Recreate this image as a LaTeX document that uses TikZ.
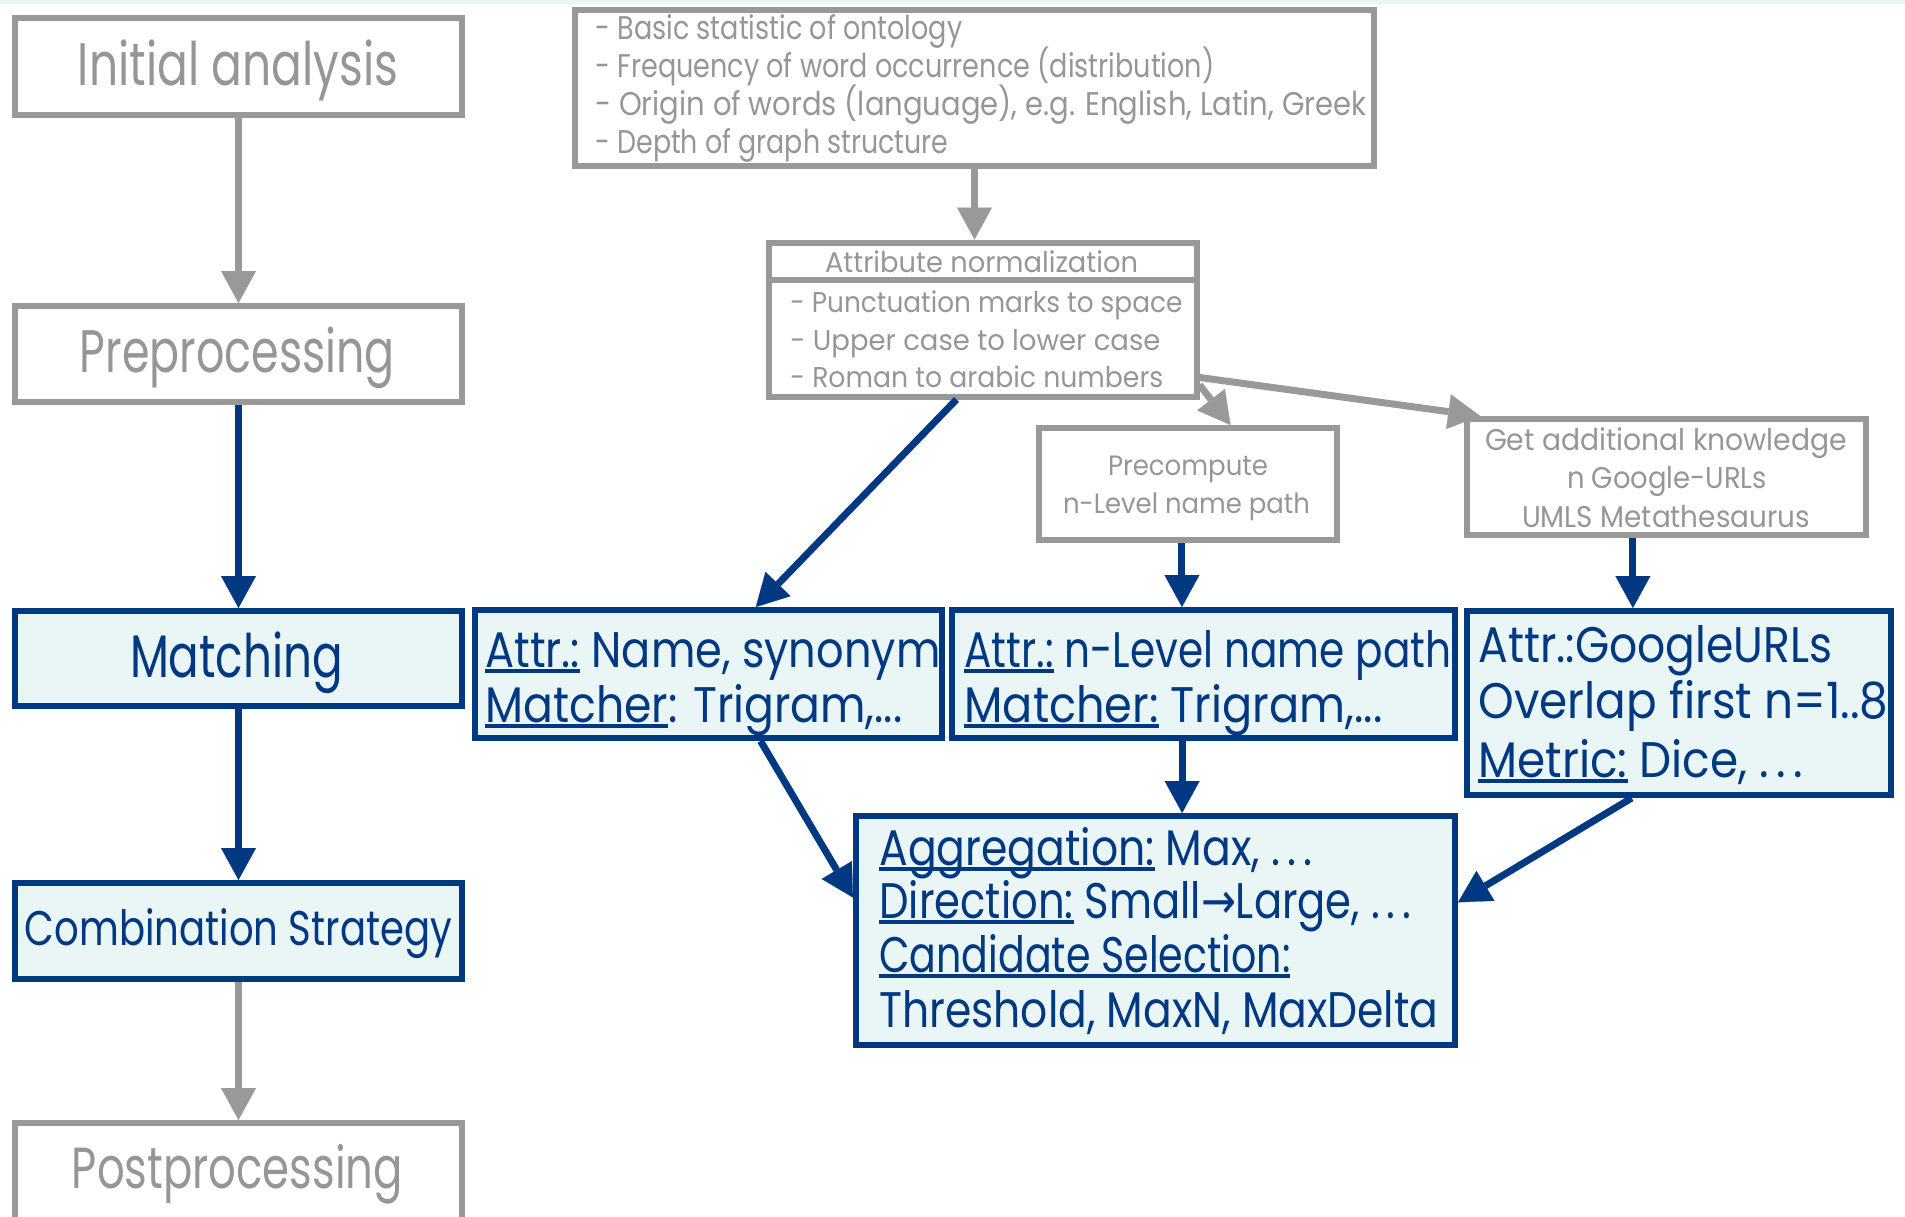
\documentclass[tikz,border=0pt]{standalone}
\usepackage{fontspec}
\usepackage{graphicx}
\setmainfont{Poppins}
\newfontfamily\arrowfont{DejaVu Sans}
\usetikzlibrary{arrows.meta,calc}

\definecolor{lineGray}{RGB}{153,153,153}
\definecolor{textGray}{RGB}{150,150,150}
\definecolor{deepBlue}{RGB}{0,57,130}
\definecolor{iceFill}{RGB}{234,245,245}
\definecolor{bandCyan}{RGB}{232,245,245}

% one drawing unit = 0.5pt
\newlength\px
\setlength\px{0.5pt}
\newcommand\fs[1]{\fontsize{#1}{#1}\selectfont}
% set a line to a given width (in drawing units), keeping its height
\newcommand\fw[2]{\resizebox{#1\px}{\height}{#2}}
% underline that runs just under the baseline
\newcommand\ulx[1]{\setbox0\hbox{#1}\rlap{\rule[-0.115em]{\wd0}{0.075em}}\box0\relax}
\newcommand\rarr{{\arrowfont →}}

\begin{document}
\begin{tikzpicture}[x=0.5pt,y=-0.5pt,
  gbox/.style={draw=lineGray,line width=3pt,inner sep=0pt,rectangle},
  bbox/.style={draw=deepBlue,fill=iceFill,line width=3pt,inner sep=0pt,rectangle},
  garr/.style={draw=lineGray,line width=3.5pt,-{Triangle[length=16pt,width=17.5pt,line width=0.1pt]}},
  barr/.style={draw=deepBlue,line width=3.5pt,-{Triangle[length=16pt,width=17.5pt,line width=0.1pt]}},
  lbl/.style={inner sep=0pt,anchor=base west},
  clbl/.style={inner sep=0pt,anchor=base},
  gtxt/.style={text=textGray},
  btxt/.style={text=deepBlue}]
\useasboundingbox (0,0) rectangle (1905,1216);
\fill[bandCyan] (0,0) rectangle (1905,3.5);

% ---- left column: process steps
\node[gbox,minimum width=223.5pt,minimum height=48.5pt] (init) at (238.5,66.5) {};
\node[gbox,minimum width=223.5pt,minimum height=48pt] (prep) at (238.5,354) {};
\node[bbox,minimum width=223.5pt,minimum height=47.5pt] (match) at (238.5,658.5) {};
\node[bbox,minimum width=223.5pt,minimum height=48pt] (comb) at (238.5,931) {};
\node[gbox,minimum width=223.5pt,minimum height=50pt] (post) at (238.5,1173) {};

% ---- analysis and normalisation
\node[gbox,minimum width=399.5pt,minimum height=78pt] (stats) at (974.5,87.5) {};
\node[gbox,minimum width=214pt,minimum height=18.75pt] (normhead) at (982.5,261.25) {};
\node[gbox,minimum width=214pt,minimum height=58.25pt] (normbody) at (982.5,338.25) {};
\node[gbox,minimum width=149pt,minimum height=56pt] (pre) at (1188,484) {};
\node[gbox,minimum width=199.5pt,minimum height=58pt] (getknow) at (1666.5,477) {};

% ---- matchers and combination
\node[bbox,minimum width=233.5pt,minimum height=64pt] (attrname) at (708.5,674) {};
\node[bbox,minimum width=251.5pt,minimum height=64pt] (nlevel) at (1203.5,674) {};
\node[bbox,minimum width=212pt,minimum height=92pt] (google) at (1679,703) {};
\node[bbox,minimum width=299.5pt,minimum height=114.5pt] (aggr) at (1155.5,930.5) {};

% ---- connectors
\draw[garr] (init.south) -- (prep.north);
\draw[barr] (prep.south) -- (match.north);
\draw[barr] (match.south) -- (comb.north);
\draw[garr] (comb.south) -- (post.north);
\draw[garr] (stats.south) -- (stats.south |- normhead.north);
\coordinate (nA) at ($(normbody.north east)!0.82!(normbody.south east)$);
\coordinate (nB) at ($(normbody.north east)!0.88!(normbody.south east)$);
\draw[garr] (nB) -- ($(pre.north west)!0.64!(pre.north east)$);
\draw[garr] (nA) -- ($(getknow.north west)!0.04!(getknow.north east)$);
\draw[barr] ($(normbody.south west)!0.44!(normbody.south east)$) -- ($(attrname.north west)!0.60!(attrname.north east)$);
\coordinate (pOut) at ($(pre.south west)!0.48!(pre.south east)$);
\draw[barr] (pOut) -- (pOut |- nlevel.north);
\coordinate (gOut) at ($(getknow.south west)!0.417!(getknow.south east)$);
\draw[barr] (gOut) -- (gOut |- google.north);
\draw[barr] ($(attrname.south west)!0.61!(attrname.south east)$) -- ($(aggr.north west)!0.36!(aggr.south west)$);
\coordinate (lOut) at ($(nlevel.south west)!0.458!(nlevel.south east)$);
\draw[barr] (lOut) -- (lOut |- aggr.north);
\draw[barr] ($(google.south west)!0.39!(google.south east)$) -- ($(aggr.north east)!0.38!(aggr.south east)$);

% ---- texts
\node[clbl,gtxt,font=\fs{30}] (initT) at (238,85) {\fw{320}{Initial analysis}};
\node[clbl,gtxt,font=\fs{30}] (prepT) at (237.5,372) {\fw{315}{Preprocessing}};
\node[clbl,btxt,font=\fs{30}] (matchT) at (236.5,677) {\fw{213}{Matching}};
\node[clbl,btxt,font=\fs{24.3}] (combT) at (238.5,945) {\fw{427}{Combination Strategy}};
\node[clbl,gtxt,font=\fs{29}] (postT) at (237.5,1188.5) {\fw{331}{Postprocessing}};

\node[lbl,gtxt,font=\fs{16.4}] (st1) at (595,39.3) {\fw{367}{- Basic statistic of ontology}};
\node[lbl,gtxt,font=\fs{16.4}] (st2) at (595,77) {\fw{619}{- Frequency of word occurrence (distribution)}};
\node[lbl,gtxt,font=\fs{16.4}] (st3) at (595,115) {\fw{771}{- Origin of words (language), e.g. English, Latin, Greek}};
\node[lbl,gtxt,font=\fs{16.4}] (st4) at (595,153.3) {\fw{353}{- Depth of graph structure}};

\node[clbl,gtxt,font=\fs{14.3}] (nh) at (981.5,272) {\fw{313}{Attribute normalization}};
\node[lbl,gtxt,font=\fs{14.3}] (nb1) at (790,312) {\fw{392}{- Punctuation marks to space}};
\node[lbl,gtxt,font=\fs{14.3}] (nb2) at (790,350) {\fw{370}{- Upper case to lower case}};
\node[lbl,gtxt,font=\fs{14.3}] (nb3) at (790,387) {\fw{373}{- Roman to arabic numbers}};

\node[clbl,gtxt,font=\fs{14}] (pr1) at (1188,475) {\fw{160}{Precompute}};
\node[clbl,gtxt,font=\fs{14}] (pr2) at (1186.5,513) {\fw{247}{n-Level name path}};

\node[clbl,gtxt,font=\fs{15}] (gk1) at (1666,450) {\fw{362}{Get additional knowledge}};
\node[clbl,gtxt,font=\fs{15}] (gk2) at (1667,488) {\fw{200}{n Google-URLs}};
\node[clbl,gtxt,font=\fs{15}] (gk3) at (1666,527) {\fw{288}{UMLS Metathesaurus}};

\node[lbl,btxt,font=\fs{25}] (an1) at (485,667) {\fw{455}{\ulx{Attr.:} Name, synonym}};
\node[lbl,btxt,font=\fs{25}] (an2) at (485,722) {\fw{417}{\ulx{Matcher}: Trigram,...}};
\node[lbl,btxt,font=\fs{25}] (nl1) at (964,667) {\fw{487}{\ulx{Attr.:} n-Level name path}};
\node[lbl,btxt,font=\fs{25}] (nl2) at (964,722) {\fw{418}{\ulx{Matcher:} Trigram,...}};
\node[lbl,btxt,font=\fs{25}] (go1) at (1478,662) {\fw{354}{Attr.:GoogleURLs}};
\node[lbl,btxt,font=\fs{25}] (go2) at (1478,718) {\fw{410}{Overlap first n=1..8}};
\node[lbl,btxt,font=\fs{25}] (go3) at (1478,777) {\fw{325}{\ulx{Metric:} Dice, .\,.\,.}};
\node[lbl,btxt,font=\fs{25}] (ag1) at (879,865) {\fw{433}{\ulx{Aggregation:} Max, .\,.\,.}};
\node[lbl,btxt,font=\fs{25}] (ag2) at (879,918) {\fw{532}{\ulx{Direction:} Small\rarr Large, .\,.\,.}};
\node[lbl,btxt,font=\fs{25}] (ag3) at (879,972) {\fw{411}{\ulx{Candidate Selection:}}};
\node[lbl,btxt,font=\fs{25}] (ag4) at (879,1027) {\fw{559}{Threshold, MaxN, MaxDelta}};
\end{tikzpicture}
\end{document}
